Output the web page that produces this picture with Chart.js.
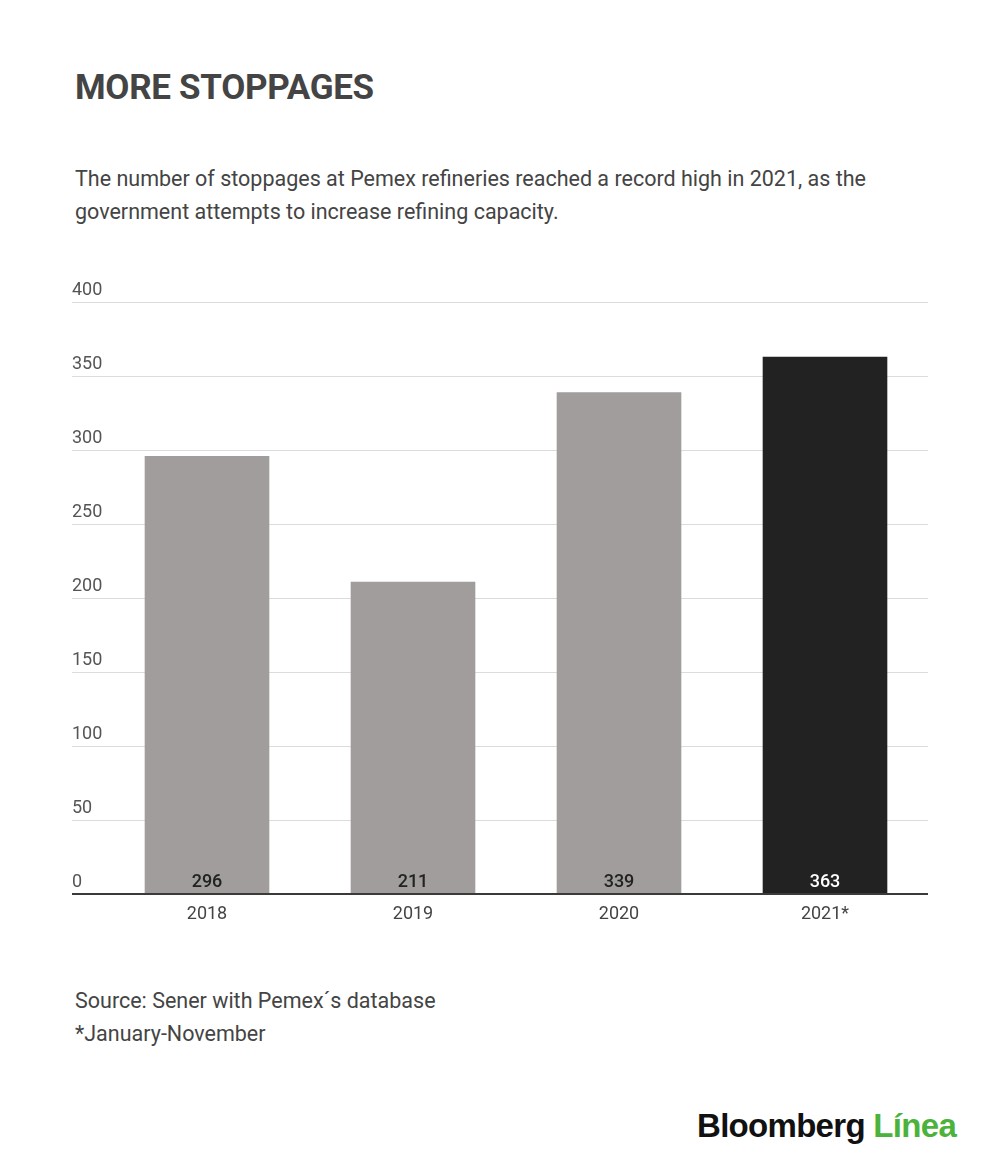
<!DOCTYPE html>
<html>
<head>
<meta charset="utf-8">
<script src="https://cdn.jsdelivr.net/npm/chart.js@4"></script>
<style>
  html, body { margin: 0; padding: 0; background: #fff; }
  body { width: 1000px; height: 1170px; position: relative; font-family: Roboto, "Noto Sans", sans-serif; color: #444; overflow: hidden; }
  .title { position: absolute; left: 75px; top: 67px; font-size: 35px; font-weight: 700; letter-spacing: -0.3px; }
  .sub { position: absolute; left: 75px; top: 162px; font-size: 21.5px; line-height: 33px; width: 900px; }
  .foot { position: absolute; left: 75px; top: 984px; font-size: 21.5px; line-height: 33px; }
  .logo { position: absolute; left: 697px; top: 1107px; font-family: "Liberation Sans", Arial, sans-serif; font-weight: 700; font-size: 33px; letter-spacing: -0.7px; color: #111; }
  .logo span { color: #4bb33b; }
  #wrap { position: absolute; left: 72px; top: 280px; width: 860px; height: 660px; }
</style>
</head>
<body>
<div class="title">MORE STOPPAGES</div>
<div class="sub">The number of stoppages at Pemex refineries reached a record high in 2021, as the<br>government attempts to increase refining capacity.</div>
<div id="wrap"><canvas id="chart"></canvas></div>
<div class="foot">Source: Sener with Pemex´s database<br>*January-November</div>
<div class="logo">Bloomberg <span>Línea</span></div>

<script>
// data
const years = ['2018', '2019', '2020', '2021*'];
const stoppages = [296, 211, 339, 363];
const barColors = ['#a19d9c', '#a19d9c', '#a19d9c', '#222222'];
const valueColors = ['#222', '#222', '#222', '#fff'];
const yTicks = [0, 50, 100, 150, 200, 250, 300, 350, 400];

const axisGap = 32; // gridlines run this far left of the bars

// y labels sit above their gridline, left aligned
const yLabels = {
	id: 'yLabels',
	afterDraw(chart) {
		const { ctx, scales: { y }, chartArea } = chart;
		ctx.save();
		ctx.font = '18px Roboto';
		ctx.fillStyle = '#555';
		ctx.textAlign = 'left';
		ctx.textBaseline = 'bottom';
		yTicks.forEach(v => {
			ctx.fillText(String(v), chartArea.left - axisGap, y.getPixelForValue(v) - 3);
		});
		ctx.restore();
	}
};

// values written at the foot of each bar
const barValues = {
	id: 'barValues',
	afterDatasetsDraw(chart) {
		const { ctx } = chart;
		const meta = chart.getDatasetMeta(0);
		ctx.save();
		ctx.font = '500 18px Roboto';
		ctx.textAlign = 'center';
		ctx.textBaseline = 'bottom';
		meta.data.forEach((bar, i) => {
			ctx.fillStyle = valueColors[i];
			ctx.fillText(String(stoppages[i]), bar.x, bar.base - 2);
		});
		ctx.restore();
	}
};

new Chart(document.getElementById('chart'), {
	type: 'bar',
	data: {
		labels: years,
		datasets: [{
			data: stoppages,
			backgroundColor: barColors,
			barPercentage: 0.605,
			categoryPercentage: 1
		}]
	},
	options: {
		responsive: true,
		maintainAspectRatio: false,
		animation: false,
		layout: { padding: { top: 22, right: 4, left: 0, bottom: 0 } },
		plugins: { legend: { display: false }, tooltip: { enabled: false } },
		scales: {
			x: {
				grid: { display: false },
				border: { display: false },
				ticks: { color: '#444', font: { family: 'Roboto', size: 18 }, padding: 2 },
				afterFit: s => { s.height = 46; }
			},
			y: {
				min: 0,
				max: 400,
				ticks: { stepSize: 50, display: false },
				border: { display: false },
				grid: {
					drawTicks: true,
					tickLength: axisGap,
					color: c => c.tick && c.tick.value === 0 ? '#3a3a3a' : '#dcdcdc',
					lineWidth: c => c.tick && c.tick.value === 0 ? 2 : 1
				},
				afterFit: s => { s.width = axisGap; }
			}
		}
	},
	plugins: [yLabels, barValues]
});
</script>
</body>
</html>
